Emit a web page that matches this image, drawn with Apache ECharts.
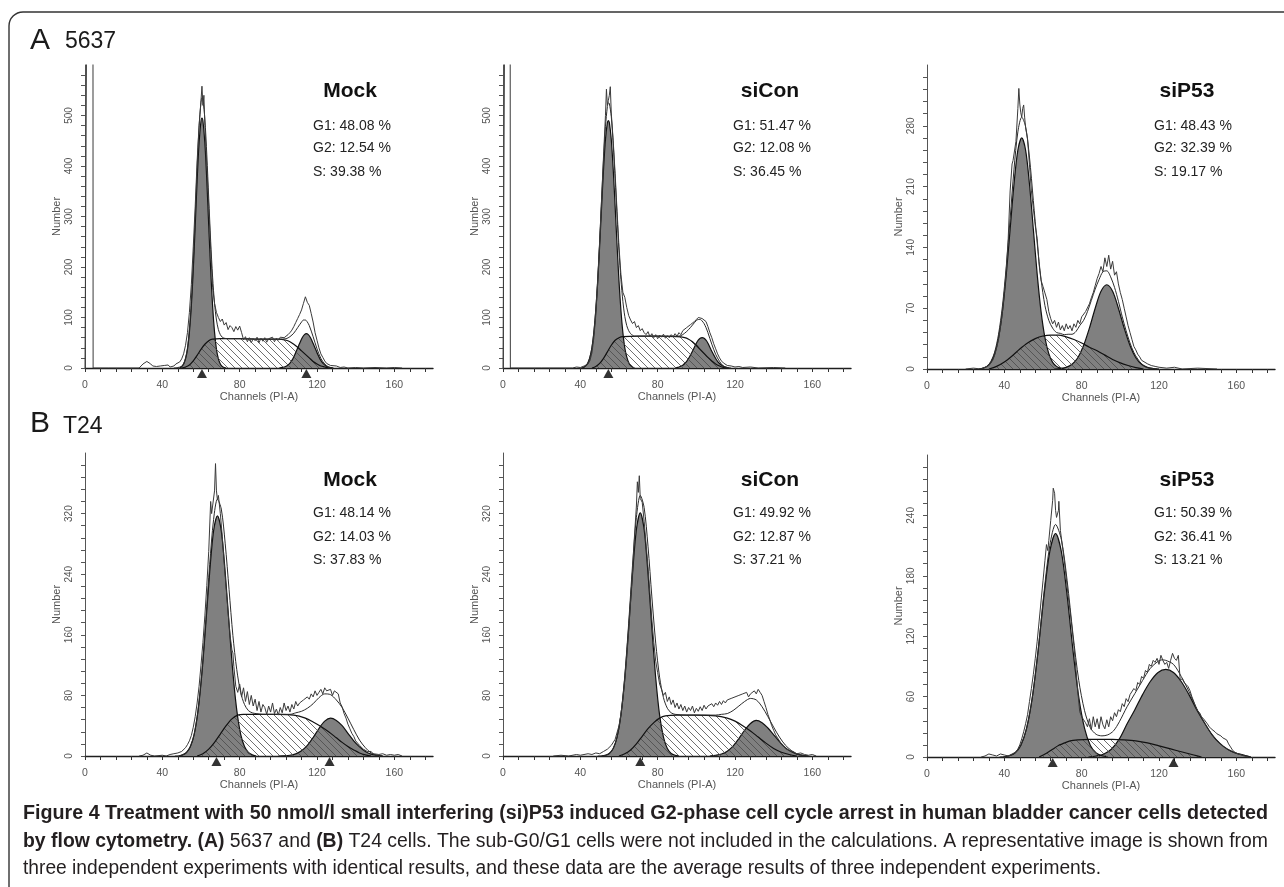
<!DOCTYPE html>
<html><head><meta charset="utf-8">
<script src="https://cdn.jsdelivr.net/npm/echarts@6.0.0/dist/echarts.min.js"></script>
<style>html,body{margin:0;padding:0;background:#fff}#c{width:1284px;height:887px}</style>
</head><body><div id="c"></div><script>
// ---------- axis tick values ----------
const xTickValues = [0,8,16,24,32,40,48,56,64,72,80,88,96,104,112,120,128,136,144,152,160,168,176];
const xLabelValues = [0,40,80,120,160];
const yTicks600 = [0,20,40,60,80,100,120,140,160,180,200,220,240,260,280,300,320,340,360,380,400,420,440,460,480,500,520,540,560,580];
const yLabels600 = [0,100,200,300,400,500];
const yTicks350 = [0,14,28,42,56,70,84,98,112,126,140,154,168,182,196,210,224,238,252,266,280,294,308,322,336];
const yLabels350 = [0,70,140,210,280];
const yTicks400 = [0,16,32,48,64,80,96,112,128,144,160,176,192,208,224,240,256,272,288,304,320,336,352,368,384];
const yLabels400 = [0,80,160,240,320];
const yTicks300 = [0,12,24,36,48,60,72,84,96,108,120,132,144,156,168,180,192,204,216,228,240,252,264,276,288];
const yLabels300 = [0,60,120,180,240];

// ---------- texts ----------
const panelTitles = ['Mock','siCon','siP53','Mock','siCon','siP53'];
const g1Pct = ['48.08','51.47','48.43','48.14','49.92','50.39'];
const g2Pct = ['12.54','12.08','32.39','14.03','12.87','36.41'];
const sPct  = ['39.38','36.45','19.17','37.83','37.21','13.21'];

// ---------- A 5637 Mock ----------
const aMockG1 = [[49,0],[50,3],[51,8],[52,18],[53,37],[54,71],[55,123],[56,195],[57,282],[58,372],[59,446],[60,489],[60.5,495],[61,489],[62,446],[63,372],[64,282],[65,195],[66,123],[67,71],[68,37],[69,18],[70,8],[71,3],[72,1],[73,0]];
const aMockS = [[50,0],[52,2],[54,6],[56,14],[58,25],[60,37],[62,47],[64,54],[66,57],[70,58],[80,58],[90,57],[100,57],[104,55],[106,52],[108,47],[110,41],[112,34],[114,27],[116,20],[118,13],[120,8],[122,4],[124,2],[126,0]];
const aMockG2 = [[100.5,0],[101.5,1],[102.5,1.4],[103.5,2.6],[104.5,4.6],[105.5,7.6],[106.5,12],[107.5,18],[108.5,26],[109.5,35],[110.5,44],[111.5,53],[112.5,61],[113.5,66],[114.5,68],[115.5,66],[116.5,61],[117.5,53],[118.5,44],[119.5,35],[120.5,26],[121.5,18],[122.5,12],[123.5,7.6],[124.5,4.6],[125.5,2.6],[126.5,1.4],[127.5,0.7],[128.5,0]];
const aMockFit = [[46,0],[48,1],[50,3],[51,8],[52,20],[53,39],[54,77],[55,130],[56,209],[57,301],[58,397],[59,477],[60,526],[60.5,535],[61,531],[62,493],[63,422],[64,336],[65,251],[66,180],[67,128],[68,95],[69,76],[70,66],[71,61],[72,59],[74,58],[80,58],[90,57],[100,57],[104,58],[106,62],[108,69],[110,80],[112,91],[113,95],[114,95],[115,91],[116,84],[118,62],[120,38],[122,19],[124,8],[126,2],[128,0]];
const aMockRaw = [[0,0],[1,0],[1.1,900],[4.1,900],[4.2,0],[12,0],[28,0],[29,4],[30,8],[31,11],[32,13],[33,11],[34,8],[35,4],[36,2],[37,3],[38,1],[39,4],[40,2],[41,5],[42,3],[43,6],[44,2],[45,5],[46,4],[47,8],[48,6],[49,12],[50,18],[51,28],[52,45],[53,70],[54,110],[55,165],[56,240],[57,320],[58,410],[59,480],[60,530],[60.5,558],[61,520],[61.5,540],[62,480],[63,400],[64,320],[65,235],[66,160],[67,128],[68,110],[69,100],[70,92],[71,97],[72,85],[73,90],[74,76],[75,84],[76,80],[77,72],[78,82],[79,75],[80,83],[81,70],[82,56],[83,62],[84,52],[85,60],[86,50],[87,58],[88,54],[89,61],[90,50],[91,59],[92,53],[93,60],[94,51],[95,58],[96,55],[97,61],[98,52],[99,59],[100,55],[101,61],[102,58],[103,60],[104,63],[105,66],[106,70],[107,75],[108,82],[109,90],[110,98],[111,106],[112,115],[113,128],[114,141],[114.5,138],[115,130],[116,124],[117,108],[118,91],[119,70],[120,55],[121,40],[122,28],[123,21],[124,14],[125,9],[126,7],[127,5],[128,3],[130,4],[132,1],[134,2],[136,0],[140,1],[144,0],[150,1],[156,0],[160,1],[164,0]];
const aMockMarks = [60.5, 114.5];

// ---------- A 5637 siCon ----------
const aSiConG1 = [[41,0],[42,2],[43,5],[44,11],[45,22],[46,40],[47,70],[48,114],[49,172],[50,243],[51,320],[52,394],[53,453],[54,486],[54.5,490],[55,486],[56,453],[57,394],[58,320],[59,243],[60,172],[61,114],[62,70],[63,40],[64,22],[65,11],[66,5],[67,2],[68,0]];
const aSiConS = [[46,0],[48,3],[50,9],[52,19],[54,32],[56,45],[58,55],[60,60],[62,62],[70,63],[80,63],[90,62],[94,60],[96,57],[98,52],[100,45],[102,37],[104,29],[106,21],[108,14],[110,8],[112,4],[114,1],[116,0]];
const aSiConG2 = [[89,0],[90,1],[91,2],[92,3.4],[93,5.6],[94,8.8],[95,13],[96,19],[97,26],[98,33],[99,41],[100,49],[101,55],[102,59],[103,60],[104,59],[105,55],[106,49],[107,41],[108,33],[109,26],[110,19],[111,13],[112,9],[113,6],[114,3.4],[115,2],[116,1],[117,0]];
const aSiConFit = [[40,0],[42,2],[43,5],[44,11],[45,22],[46,40],[47,71],[48,117],[49,178],[50,252],[51,334],[52,413],[53,478],[54,518],[54.5,525],[55,524],[56,498],[57,444],[58,375],[59,301],[60,232],[61,175],[62,132],[63,102],[64,84],[65,74],[66,68],[67,65],[68,63],[70,63],[80,63],[90,63],[92,64],[94,69],[96,76],[98,85],[100,94],[101,96],[102,96],[103,93],[104,88],[105,80],[106,70],[108,47],[110,27],[112,13],[114,4],[116,1],[118,0]];
const aSiConRaw = [[0,0],[1,0],[1.1,900],[3.7,900],[3.8,0],[20,0],[36,0],[38,2],[40,1],[42,4],[43,2],[44,8],[45,15],[46,30],[47,60],[48,105],[49,170],[50,250],[51,335],[52,420],[53,500],[53.5,552],[54,520],[54.5,530],[55,540],[55.5,557],[56,505],[57,450],[58,385],[59,310],[60,240],[61,185],[62,150],[63,140],[64,120],[65,104],[66,95],[67,88],[68,92],[69,80],[70,84],[71,74],[72,78],[73,70],[74,66],[75,72],[76,62],[77,68],[78,60],[79,66],[80,58],[81,65],[82,61],[83,67],[84,59],[85,64],[86,60],[87,66],[88,62],[89,68],[90,63],[91,70],[92,66],[93,74],[94,72],[95,80],[96,78],[97,86],[98,84],[99,92],[100,96],[101,100],[102,103],[103,98],[104,100],[105,92],[106,82],[107,70],[108,60],[109,48],[110,38],[111,28],[112,20],[113,14],[114,10],[115,8],[116,5],[118,4],[120,2],[122,3],[124,1],[128,2],[132,0],[140,1],[146,0]];
const aSiConMarks = [54.5];

// ---------- A 5637 siP53 ----------
const aSiP53G1 = [[27,0],[29,1],[31,3],[33,7.7],[35,17.5],[37,36],[39,66],[41,109],[43,161],[45,213],[47,252],[49,266],[51,252],[53,213],[55,161],[57,109],[59,66],[61,36],[63,17.5],[65,7.7],[67,3],[69,1],[71,0]];
const aSiP53S = [[32,0],[36,3],[40,8],[44,15],[48,23],[52,30],[56,35],[60,38],[64,39],[68,39],[72,37],[76,34],[80,30],[84,25],[88,21],[92,16],[96,11],[100,7],[104,4],[108,1.5],[112,0]];
const aSiP53G2 = [[66,0],[69,0.6],[72,1.9],[75,5.4],[78,13],[81,27],[84,47],[87,70],[90,89.5],[93,97],[96,89.5],[99,70],[102,47],[105,27],[108,13],[111,5.4],[114,1.9],[117,0.6],[120,0]];
const aSiP53Fit = [[27,0],[29,1],[31,3],[33,8.5],[35,19.5],[37,40],[39,72],[41,118],[43,173],[45,230],[47,273],[49,290],[51,279],[53,244],[55,194],[57,145],[59,103],[61,73],[63,56],[65,47],[67,42],[69,41],[71,39.5],[73,40],[75,40],[77,43],[79,50],[81,56],[83,66],[85,79],[87,92],[89,103],[91,112],[93,113],[95,106],[97,94],[99,78],[101,60],[103,44],[105,30],[107,19],[109,11.5],[111,6],[113,2.5],[115,1],[117,0.5],[119,0]];
const aSiP53Raw = [[20,0],[24,1],[28,0],[30,2],[31,1],[32,4],[33,6],[34,10],[35,16],[36,24],[37,34],[38,48],[39,65],[40,88],[41,115],[42,150],[43,205],[44,236],[44.5,240],[45,238],[46,262],[47,300],[47.5,323],[48,305],[48.5,295],[49,290],[49.5,300],[50,304],[50.5,290],[51,278],[52,265],[53,235],[54,205],[55,185],[56,165],[57,150],[58,120],[59,102],[60,95],[61,93],[62,80],[63,66],[64,58],[65,52],[66,56],[67,48],[68,54],[69,45],[70,50],[71,44],[72,52],[73,46],[74,50],[75,44],[76,52],[77,48],[78,56],[79,52],[80,60],[81,58],[82,66],[83,68],[84,75],[85,82],[86,88],[87,96],[88,104],[89,110],[90,118],[91,112],[92,128],[93,118],[94,131],[95,115],[96,124],[97,108],[98,112],[99,98],[100,88],[101,80],[102,70],[103,60],[104,50],[105,42],[106,34],[107,26],[108,22],[109,17],[110,14],[111,10],[112,8],[114,6],[116,4],[118,3],[120,2],[124,1],[128,2],[132,0],[140,1],[150,0]];
const aSiP53Marks = [];

// ---------- B T24 Mock ----------
const bMockG1 = [[48.5,0],[50.5,1.5],[52.5,4.6],[54.5,12.5],[56.5,29],[58.5,60.5],[60.5,110],[62.5,175],[64.5,243],[66.5,297],[68.5,317],[70.5,297],[72.5,243],[74.5,175],[76.5,110],[78.5,60.5],[80.5,29],[82.5,12.5],[84.5,4.6],[86.5,1.5],[88.5,0]];
const bMockS = [[58,0],[61,3],[64,9],[67,18],[70,29],[73,40],[76,49],[79,54],[82,55],[90,55],[100,55],[108,54],[114,50],[118,45],[122,39],[126,32],[130,24],[133,18],[136,12.5],[139,8],[142,4],[145,1.5],[148,0]];
const bMockG2 = [[100,0],[103,0.3],[106,1],[109,2.8],[112,6.8],[115,13.9],[118,24.3],[121,36.3],[124,46],[127,50],[130,47],[133,40],[136,30],[139,20],[142,12],[145,6],[148,2.5],[151,1],[154,0]];
const bMockFit = [[46.5,0],[48.5,0.3],[50.5,1.5],[52.5,4.6],[54.5,12.5],[56.5,29],[58.5,61],[60.5,112],[62.5,180],[64.5,253],[66.5,312],[68.5,339],[70.5,326],[72.5,281],[74.5,220],[76.5,159],[78.5,114],[80.5,84],[82.5,68],[84.5,60],[86.5,57],[88.5,56],[92,55],[100,55],[106,55],[109,57],[112,59],[115,63],[118,69],[121,77],[124,82],[127,81],[130,74],[133,64],[136,50],[139,35],[142,21],[145,11],[148,4],[151,1],[154,0]];
const bMockRaw = [[28,0],[30,1],[31,2],[32,4],[33,3],[34,1],[36,0],[40,1],[42,0],[44,2],[45,1],[46,3],[47,2],[48,4],[49,3],[50,6],[51,8],[52,11],[53,15],[54,20],[55,27],[56,38],[57,52],[58,70],[59,92],[60,120],[61,150],[62,185],[63,225],[64,270],[65,336],[65.5,320],[66,330],[67,350],[67.5,386],[68,350],[68.5,338],[69,344],[69.5,342],[70,320],[71,290],[72,255],[73,222],[74,190],[75,160],[76,140],[76.5,136],[77,118],[78,92],[79,84],[80,95],[81,78],[82,90],[83,72],[84,85],[85,68],[86,80],[87,66],[88,75],[89,60],[90,72],[91,58],[92,68],[93,64],[94,55],[95,66],[96,58],[97,70],[98,56],[99,62],[100,54],[101,64],[102,57],[103,70],[104,60],[105,66],[106,58],[107,68],[108,62],[109,72],[110,66],[111,70],[112,68],[113,74],[114,72],[115,78],[116,75],[117,82],[118,78],[119,86],[120,80],[121,84],[122,88],[123,82],[124,90],[125,86],[126,84],[127,88],[128,80],[129,86],[130,88],[131,82],[132,70],[133,65],[134,56],[135,50],[136,42],[137,36],[138,30],[139,26],[140,20],[141,17],[142,14],[143,12],[144,9],[145,8],[146,6],[147,5],[148,6],[149,3],[150,4],[152,2],[154,3],[156,1],[158,2],[160,1],[162,2],[164,0]];
const bMockMarks = [68, 126.5];

// ---------- B T24 siCon ----------
const bSiConG1 = [[51,0],[53,1],[55,3.4],[57,9.8],[59,25],[61,54],[63,103],[65,169],[67,241],[69,299],[71,321],[73,299],[75,241],[77,169],[79,103],[81,54],[83,25],[85,9.8],[87,3.4],[89,1],[91,0]];
const bSiConS = [[60,0],[63,3],[66,8],[69,16],[72,26],[75,36],[78,44],[81,50],[84,53],[90,54],[100,54],[110,53],[116,50],[120,46],[124,40],[128,33],[132,25],[136,17],[140,10],[144,5],[148,2],[152,0]];
const bSiConG2 = [[107,0],[110,1],[113,2.6],[116,6.4],[119,13],[122,23],[125,34],[128,43],[131,47],[134,44],[137,37],[140,28],[143,19],[146,11],[149,6],[152,2.5],[155,1],[158,0]];
const bSiConFit = [[49,0],[51,0.3],[53,1],[55,3.4],[57,10],[59,25],[61,55],[63,106],[65,175],[67,252],[69,315],[71,344],[73,328],[75,277],[77,210],[79,149],[81,104],[83,77],[85,63],[87,57],[89,55],[95,54],[105,54],[110,54],[113,55],[116,56],[119,60],[122,66],[125,72],[128,76],[131,74],[134,65],[137,52],[140,38],[143,25],[146,14.5],[149,7.5],[152,2.5],[155,1],[158,0]];
const bSiConRaw = [[26,0],[30,1],[34,0],[38,2],[40,1],[44,3],[46,2],[48,4],[50,3],[52,6],[54,9],[56,14],[58,22],[60,40],[61,55],[62,75],[63,100],[64,130],[65,165],[66,205],[67,245],[68,290],[69,330],[69.5,362],[70,348],[70.5,370],[71,340],[72,335],[73,310],[74,280],[75,250],[76,215],[77,180],[78,150],[79,125],[80,110],[81,95],[82,88],[83,80],[84,84],[85,72],[86,78],[87,68],[88,74],[89,64],[90,70],[91,62],[92,68],[93,60],[94,66],[95,58],[96,64],[97,60],[98,66],[99,57],[100,63],[101,59],[102,65],[103,60],[104,67],[105,62],[106,66],[107,64],[108,69],[109,65],[110,70],[111,67],[112,72],[113,68],[114,73],[115,70],[116,74],[117,72],[118,76],[119,74],[120,78],[121,76],[122,80],[123,78],[124,82],[125,80],[126,84],[127,78],[128,82],[129,80],[130,86],[131,82],[132,88],[133,84],[134,80],[135,72],[136,64],[137,55],[138,48],[139,40],[140,34],[141,28],[142,24],[143,20],[144,16],[145,13],[146,10],[147,8],[148,7],[149,5],[150,6],[152,3],[154,4],[156,2],[158,1],[160,2],[162,0]];
const bSiConMarks = [71];

// ---------- B T24 siP53 ----------
const bSiP53G1 = [[39.5,0],[42.5,1.2],[45.5,4],[48.5,11.5],[51.5,28.4],[54.5,59.5],[57.5,106],[60.5,160],[63.5,204],[66.5,222],[69.5,204],[72.5,160],[75.5,106],[78.5,59.5],[81.5,28.4],[84.5,11.5],[87.5,4],[90.5,1.2],[93.5,0]];
const bSiP53S = [[58,0],[62,4],[66,9],[68,11.5],[70,13],[74,16],[78,17],[84,17.5],[90,17.5],[96,17.5],[102,17],[108,16],[114,14],[120,11],[126,8],[132,5],[138,2],[142,0]];
const bSiP53G2 = [[83.5,0],[87.5,1],[91.5,3],[95.5,8],[99.5,18],[103.5,33],[107.5,47],[111.5,62],[115.5,75],[119.5,84],[123.5,87],[127.5,84],[131.5,75],[135.5,62],[139.5,47],[143.5,34],[147.5,22],[151.5,13.5],[155.5,7.6],[159.5,4],[163.5,2],[167.5,0]];
const bSiP53Fit = [[37.5,0],[39.5,0.3],[42.5,1.2],[45.5,4],[48.5,11.5],[51.5,28.4],[54.5,59.5],[57.5,106],[60.5,163],[63.5,210],[66.5,231],[69.5,216],[72.5,175],[75.5,122],[78.5,76],[81.5,46],[84.5,29],[87.5,22.5],[90.5,21],[93.5,22],[96.5,26],[99.5,35],[103.5,50],[107.5,63],[111.5,76],[115.5,88],[119.5,95],[121.5,96.5],[123.5,96],[127.5,92],[131.5,80],[135.5,65],[139.5,48],[143.5,34],[147.5,22],[151.5,13.5],[155.5,7.6],[159.5,4],[163.5,2],[167.5,0]];
const bSiP53Raw = [[28,0],[30,1],[32,3],[33,4],[34,2],[36,1],[38,3],[40,2],[42,1],[44,3],[45,2],[46,5],[47,8],[48,12],[49,18],[50,25],[51,33],[52,42],[53,55],[54,68],[55,82],[56,98],[57,115],[58,135],[59,155],[60,175],[61,195],[61.8,211],[62.5,205],[63,215],[64,235],[65,255],[65.3,267],[66,262],[66.5,245],[67,238],[68,245],[68.2,254],[69,225],[70,210],[71,195],[72,178],[73,160],[74,145],[75,128],[76,110],[77,88],[78,65],[79,45],[80,40],[81,37],[82,34],[83,30],[84,38],[85,27],[86,40],[87,30],[88,38],[89,28],[90,40],[91,32],[92,28],[93,37],[94,30],[95,40],[96,36],[97,44],[98,40],[99,47],[100,45],[101,53],[102,50],[103,58],[104,55],[105,62],[106,63],[107,68],[108,66],[109,74],[110,72],[111,80],[112,78],[113,86],[114,84],[115,92],[116,90],[117,96],[118,94],[119,98],[120,92],[121,101],[122,96],[123,92],[124,94],[125,88],[126,96],[127,103],[128,98],[129,96],[130,101],[131,76],[132,78],[133,74],[134,72],[135,70],[136,66],[137,60],[138,55],[139,50],[140,46],[141,44],[142,40],[143,38],[144,37],[145,33],[146,30],[147,28],[148,27],[149,25],[150,23],[151,22],[152,21],[153,19],[154,18],[155,17],[156,13],[157,10],[158,7],[159,5],[160,4],[161,3],[162,2],[164,1],[166,0]];
const bSiP53Marks = [65, 127.5];

// ---------- caption ----------
const captionLines = [
  [['b','Figure 4 Treatment with 50 nmol/l small interfering (si)P53 induced G2-phase cell cycle arrest in human bladder cancer cells detected']],
  [['b','by flow cytometry. '],['b','(A)'],['r',' 5637 and '],['b','(B)'],['r',' T24 cells. The sub-G0/G1 cells were not included in the calculations. A representative image is shown from']],
  [['r','three independent experiments with identical results, and these data are the average results of three independent experiments.']]
];

// ================= build =================
const FONT = '"Liberation Sans", Arial, sans-serif';
const panels = [
  {g1:aMockG1, s:aMockS, g2:aMockG2, fit:aMockFit, raw:aMockRaw, marks:aMockMarks, yMax:600, yTicks:yTicks600, yLabels:yLabels600},
  {g1:aSiConG1, s:aSiConS, g2:aSiConG2, fit:aSiConFit, raw:aSiConRaw, marks:aSiConMarks, yMax:600, yTicks:yTicks600, yLabels:yLabels600},
  {g1:aSiP53G1, s:aSiP53S, g2:aSiP53G2, fit:aSiP53Fit, raw:aSiP53Raw, marks:aSiP53Marks, yMax:350, yTicks:yTicks350, yLabels:yLabels350},
  {g1:bMockG1, s:bMockS, g2:bMockG2, fit:bMockFit, raw:bMockRaw, marks:bMockMarks, yMax:400, yTicks:yTicks400, yLabels:yLabels400},
  {g1:bSiConG1, s:bSiConS, g2:bSiConG2, fit:bSiConFit, raw:bSiConRaw, marks:bSiConMarks, yMax:400, yTicks:yTicks400, yLabels:yLabels400},
  {g1:bSiP53G1, s:bSiP53S, g2:bSiP53G2, fit:bSiP53Fit, raw:bSiP53Raw, marks:bSiP53Marks, yMax:300, yTicks:yTicks300, yLabels:yLabels300}
];
const layout = [
  {left:85, top:65, height:303}, {left:503, top:65, height:303}, {left:927, top:65, height:304},
  {left:85, top:453, height:303}, {left:503, top:453, height:303}, {left:927, top:455, height:302}
];
const PW = 348;
const titleDx = [265, 267, 260], statDx = [228, 230, 227];
const titleY = [91, 480.5], statY = [[126,148.5,172.5],[513,537,560.5]];

// hatch pattern
const pc = document.createElement('canvas'); pc.width = 7; pc.height = 7;
const pg = pc.getContext('2d'); pg.strokeStyle = '#4a4a4a'; pg.lineWidth = 0.8;
pg.beginPath(); pg.moveTo(0,0); pg.lineTo(7,7); pg.moveTo(-1,6); pg.lineTo(1,8); pg.moveTo(6,-1); pg.lineTo(8,1); pg.stroke();
const hatch = {image: pc, repeat: 'repeat'};

const grids = [], xAxes = [], yAxes = [], series = [], graphics = [];
panels.forEach((p, i) => {
  const L = layout[i];
  grids.push({left: L.left, top: L.top, width: PW, height: L.height, containLabel: false});
  xAxes.push({
    type:'value', gridIndex:i, min:0, max:180, interval:40,
    axisLine:{show:true, onZero:false, lineStyle:{color:'#1e1e1e', width:1.4}},
    axisTick:{show:true, customValues:xTickValues, length:4, lineStyle:{color:'#333'}},
    axisLabel:{customValues:xLabelValues, margin:12, fontSize:10.5, color:'#555', fontFamily:FONT},
    splitLine:{show:false},
    name:'Channels (PI-A)', nameLocation:'middle', nameGap:23,
    nameTextStyle:{fontSize:11, color:'#555', fontFamily:FONT}
  });
  yAxes.push({
    type:'value', gridIndex:i, min:0, max:p.yMax, interval:p.yLabels[1],
    axisLine:{show:true, onZero:false, lineStyle:{color:'#555', width:1}},
    axisTick:{show:true, customValues:p.yTicks, length:4, lineStyle:{color:'#555'}},
    axisLabel:{customValues:p.yLabels, rotate:90, margin:11, fontSize:10, color:'#555', fontFamily:FONT},
    splitLine:{show:false},
    name:'Number', nameLocation:'middle', nameGap:23,
    nameTextStyle:{fontSize:11, color:'#555', fontFamily:FONT}
  });
  const base = {xAxisIndex:i, yAxisIndex:i, symbol:'none', silent:true, animation:false};
  series.push(Object.assign({type:'line', data:p.g1, smooth:0.3, z:2,
    lineStyle:{color:'#111', width:1.2}, areaStyle:{color:'#808080', opacity:1}}, base));
  series.push(Object.assign({type:'line', data:p.g2, smooth:0.3, z:2,
    lineStyle:{color:'#111', width:1.2}, areaStyle:{color:'#808080', opacity:1}}, base));
  series.push(Object.assign({type:'line', data:p.s, smooth:0.3, z:3,
    lineStyle:{color:'#111', width:1.2}, areaStyle:{color:hatch, opacity:1}}, base));
  series.push(Object.assign({type:'line', data:p.fit, smooth:0.3, z:4,
    lineStyle:{color:'#2b2b2b', width:1}}, base));
  series.push(Object.assign({type:'line', data:p.raw, smooth:false, z:5,
    lineStyle:{color:'#3a3a3a', width:1}}, base));
  if (p.marks.length) {
    series.push({type:'scatter', xAxisIndex:i, yAxisIndex:i, silent:true, animation:false, clip:false, z:6,
      data:p.marks.map(c => [c, 0]), symbol:'triangle', symbolSize:[10,9], symbolOffset:[0,5.5],
      itemStyle:{color:'#000'}});
  }
  const col = i % 3, row = Math.floor(i / 3);
  graphics.push({type:'text', x:L.left + titleDx[col], y:titleY[row], silent:true,
    style:{text:panelTitles[i], fontSize:21, fontWeight:'bold', fontFamily:FONT, fill:'#111',
      align:'center', textAlign:'center', verticalAlign:'middle', textVerticalAlign:'middle'}});
  const stats = ['G1: ' + g1Pct[i] + ' %', 'G2: ' + g2Pct[i] + ' %', 'S: ' + sPct[i] + ' %'];
  stats.forEach((t, k) => graphics.push({type:'text', x:L.left + statDx[col], y:statY[row][k], silent:true,
    style:{text:t, fontSize:14, fontFamily:FONT, fill:'#222',
      align:'left', textAlign:'left', verticalAlign:'middle', textVerticalAlign:'middle'}}));
});

// panel labels
[['A', 30, 40.5, 30], ['5637', 65, 41.5, 23], ['B', 30, 423.5, 30], ['T24', 63, 426.5, 23]].forEach(([t, x, y, fs]) => {
  graphics.push({type:'text', x:x, y:y, silent:true,
    style:{text:t, fontSize:fs, fontFamily:FONT, fill:'#1a1a1a', align:'left', textAlign:'left',
      verticalAlign:'middle', textVerticalAlign:'middle'}});
});

// caption
const CAP = 20;
const mctx = document.createElement('canvas').getContext('2d');
function segWidth(segs) {
  let w = 0;
  segs.forEach(([k, t]) => { mctx.font = (k === 'b' ? 'bold ' : '') + CAP + 'px ' + FONT; w += mctx.measureText(t).width; });
  return w;
}
const capX = 23, capTargets = [1245, 1245, 1078], capY = [813, 841, 868];
captionLines.forEach((segs, j) => {
  const w = segWidth(segs);
  graphics.push({type:'text', x:capX, y:capY[j], scaleX: capTargets[j] / w, silent:true,
    style:{text: segs.map(([k, t]) => '{' + k + '|' + t + '}').join(''),
      rich:{b:{fontWeight:'bold', fontSize:CAP, fontFamily:FONT, fill:'#231f20'},
            r:{fontWeight:'normal', fontSize:CAP, fontFamily:FONT, fill:'#231f20'}},
      fontSize:CAP, fontFamily:FONT, fill:'#231f20',
      align:'left', textAlign:'left', verticalAlign:'middle', textVerticalAlign:'middle'}});
});

// border
graphics.push({type:'rect', silent:true, z:100, shape:{x:9, y:12, width:1300, height:900, r:14},
  style:{fill:'none', stroke:'#333', lineWidth:1.4}});

const chart = echarts.init(document.getElementById('c'), null, {renderer:'canvas'});
chart.setOption({
  animation:false, backgroundColor:'#fff',
  textStyle:{fontFamily:FONT},
  grid:grids, xAxis:xAxes, yAxis:yAxes, series:series, graphic:graphics
});
</script></body></html>
